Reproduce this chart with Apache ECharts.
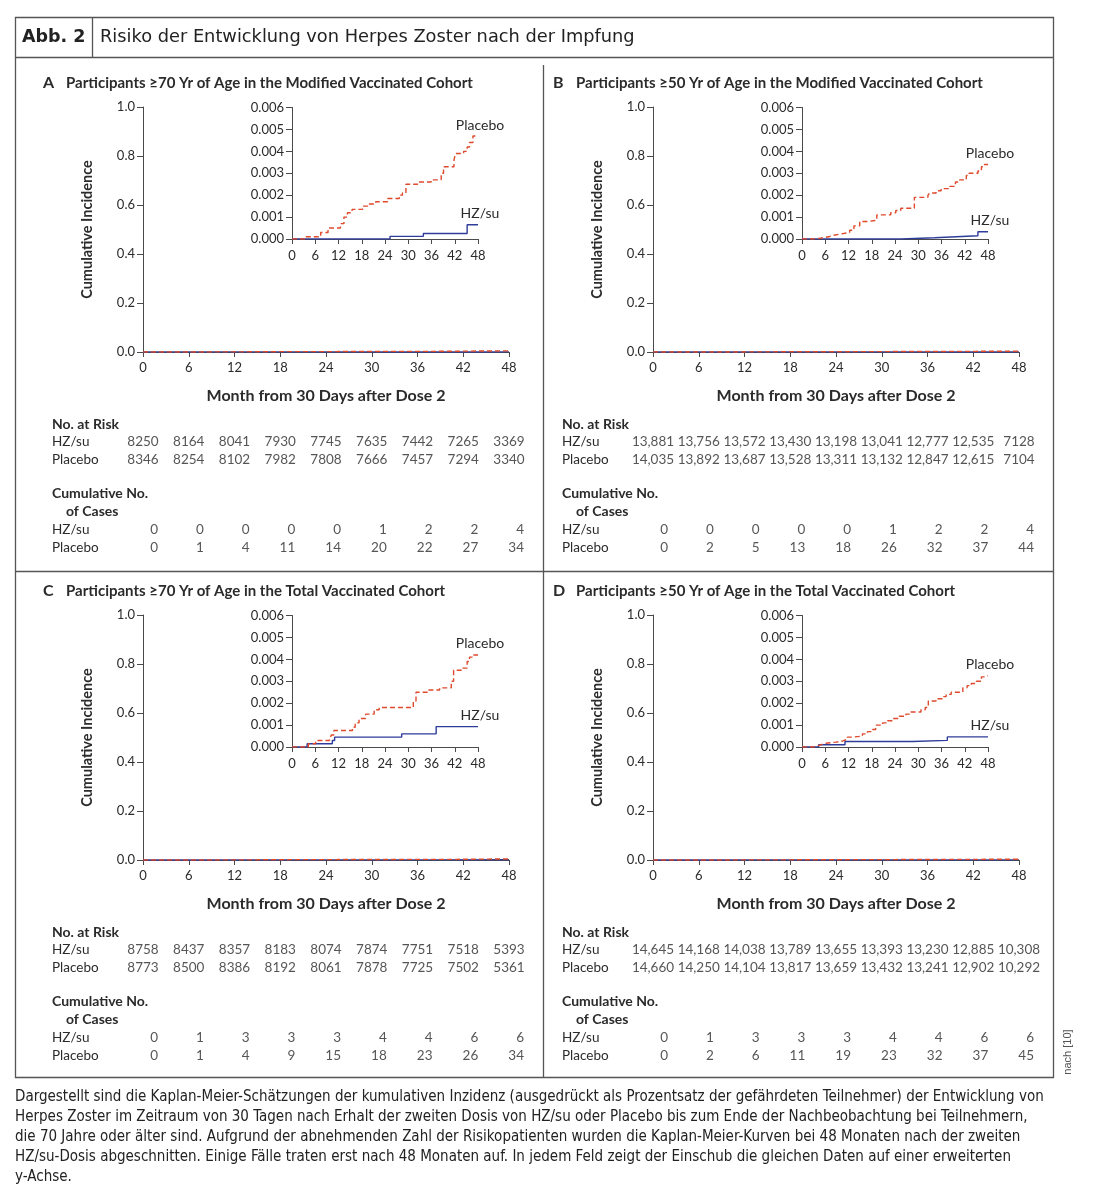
<!DOCTYPE html>
<html><head><meta charset="utf-8">
<script src="https://cdn.jsdelivr.net/npm/echarts@6/dist/echarts.min.js"></script>
<style>html,body{margin:0;padding:0;background:#fff}#c{width:1100px;height:1200px}</style>
</head><body><div id="c"></div>
<script>
// ---------------- data ----------------
const months = [0, 6, 12, 18, 24, 30, 36, 42, 48];
const groups = ['HZ/su', 'Placebo'];
const panelLetters = ['A', 'B', 'C', 'D'];
const panelTitles = [
  'Participants \u226570 Yr of Age in the Modified Vaccinated Cohort',
  'Participants \u226550 Yr of Age in the Modified Vaccinated Cohort',
  'Participants \u226570 Yr of Age in the Total Vaccinated Cohort',
  'Participants \u226550 Yr of Age in the Total Vaccinated Cohort'
];
const mainTicks = [0, 0.2, 0.4, 0.6, 0.8, 1.0];
const insetTicks = [0, 0.001, 0.002, 0.003, 0.004, 0.005, 0.006];

const riskA_hz = [8250, 8164, 8041, 7930, 7745, 7635, 7442, 7265, 3369];
const riskA_pl = [8346, 8254, 8102, 7982, 7808, 7666, 7457, 7294, 3340];
const casesA_hz = [0, 0, 0, 0, 0, 1, 2, 2, 4];
const casesA_pl = [0, 1, 4, 11, 14, 20, 22, 27, 34];

const riskB_hz = [13881, 13756, 13572, 13430, 13198, 13041, 12777, 12535, 7128];
const riskB_pl = [14035, 13892, 13687, 13528, 13311, 13132, 12847, 12615, 7104];
const casesB_hz = [0, 0, 0, 0, 0, 1, 2, 2, 4];
const casesB_pl = [0, 2, 5, 13, 18, 26, 32, 37, 44];

const riskC_hz = [8758, 8437, 8357, 8183, 8074, 7874, 7751, 7518, 5393];
const riskC_pl = [8773, 8500, 8386, 8192, 8061, 7878, 7725, 7502, 5361];
const casesC_hz = [0, 1, 3, 3, 3, 4, 4, 6, 6];
const casesC_pl = [0, 1, 4, 9, 15, 18, 23, 26, 34];

const riskD_hz = [14645, 14168, 14038, 13789, 13655, 13393, 13230, 12885, 10308];
const riskD_pl = [14660, 14250, 14104, 13817, 13659, 13432, 13241, 12902, 10292];
const casesD_hz = [0, 1, 3, 3, 3, 4, 4, 6, 6];
const casesD_pl = [0, 2, 6, 11, 19, 23, 32, 37, 45];

// Kaplan-Meier step curves: [month, cumulative incidence from that month on]
const kmA_hz = [[0,0],[25.3,0.00012],[33.9,0.00025],[45.2,0.00065],[48,0.00065]];
const kmA_pl = [[0,0],[3.5,0.0001],[7.4,0.0003],[9.3,0.0005],[12.5,0.0007],[13.4,0.001],[14.3,0.0012],
  [15.5,0.00135],[18.2,0.0015],[19.5,0.0016],[21.6,0.0017],[24.7,0.00185],[27.7,0.002],[28.5,0.0021],
  [29.4,0.0025],[32.4,0.0026],[35.9,0.0027],[38.5,0.003],[39.1,0.0033],[41.8,0.0036],[42.2,0.0039],
  [44.3,0.004],[45.2,0.0042],[45.8,0.0044],[46.7,0.0047],[48,0.0047]];

const kmB_hz = [[0,0],[25.5,0.00006],[34.2,0.00015],[45.4,0.00033],[48,0.00033]];
const kmB_pl = [[0,0],[3.0,0.00003],[4.5,0.0001],[6.9,0.00017],[8.2,0.00022],[9.7,0.0003],[12.3,0.0004],
  [13.4,0.0006],[14.9,0.0008],[17.0,0.00085],[19.3,0.0011],[22.9,0.0012],[24.2,0.0013],[25.5,0.0014],
  [29.0,0.0019],[32.5,0.002],[33.0,0.0021],[34.6,0.0022],[35.9,0.0023],[38.1,0.0024],[39.6,0.0026],
  [40.7,0.0027],[42.4,0.0029],[43.1,0.003],[45.4,0.0031],[46.3,0.0033],[47.1,0.0034],[48,0.0034]];

const kmC_hz = [[0,0],[3.9,0.00015],[10.4,0.0003],[11.0,0.00045],[28.3,0.0006],[37.2,0.00093],[48,0.00093]];
const kmC_pl = [[0,0],[4.2,0.00015],[6.1,0.0003],[9.7,0.0004],[10.2,0.00055],[10.8,0.00075],[15.6,0.0009],
  [16.3,0.0011],[17.3,0.0013],[19.0,0.0015],[21.2,0.0017],[22.5,0.0018],[31.3,0.0021],[32.0,0.0025],
  [35.0,0.0026],[38.1,0.0027],[41.1,0.003],[41.7,0.0035],[44.1,0.0036],[45.2,0.0039],[45.8,0.0041],
  [46.7,0.0042],[48,0.0042]];

const kmD_hz = [[0,0],[4.3,0.0001],[11.1,0.00025],[28.5,0.0003],[37.5,0.00046],[48,0.00046]];
const kmD_pl = [[0,0],[3.0,0.00005],[3.9,0.0001],[4.8,0.00018],[6.5,0.00022],[8.7,0.00027],[10.4,0.00035],
  [11.7,0.00045],[13.0,0.0005],[15.6,0.0006],[16.9,0.0007],[18.2,0.0008],[19.0,0.001],[20.8,0.0011],
  [22.1,0.0012],[23.4,0.0013],[25.1,0.0014],[26.8,0.0015],[27.7,0.0016],[30.7,0.0017],[31.8,0.0018],
  [32.6,0.0021],[34.6,0.0022],[36.3,0.0023],[37.2,0.0024],[38.5,0.0025],[41.5,0.0027],[42.6,0.0028],
  [43.7,0.0029],[45.0,0.003],[46.3,0.0032],[47.0,0.00325],[48,0.00325]];

const captionLines = [
  'Dargestellt sind die Kaplan-Meier-Sch\u00e4tzungen der kumulativen Inzidenz (ausgedr\u00fcckt als Prozentsatz der gef\u00e4hrdeten Teilnehmer) der Entwicklung von',
  'Herpes Zoster im Zeitraum von 30 Tagen nach Erhalt der zweiten Dosis von HZ/su oder Placebo bis zum Ende der Nachbeobachtung bei Teilnehmern,',
  'die 70 Jahre oder \u00e4lter sind. Aufgrund der abnehmenden Zahl der Risikopatienten wurden die Kaplan-Meier-Kurven bei 48 Monaten nach der zweiten',
  'HZ/su-Dosis abgeschnitten. Einige F\u00e4lle traten erst nach 48 Monaten auf. In jedem Feld zeigt der Einschub die gleichen Daten auf einer erweiterten',
  'y-Achse.'
];

// ---------------- build ----------------
const panels = [
  {risk:[riskA_hz, riskA_pl], cases:[casesA_hz, casesA_pl], km:[kmA_hz, kmA_pl]},
  {risk:[riskB_hz, riskB_pl], cases:[casesB_hz, casesB_pl], km:[kmB_hz, kmB_pl]},
  {risk:[riskC_hz, riskC_pl], cases:[casesC_hz, casesC_pl], km:[kmC_hz, kmC_pl]},
  {risk:[riskD_hz, riskD_pl], cases:[casesD_hz, casesD_pl], km:[kmD_hz, kmD_pl]}
];
const offs = [[0,0],[510,0],[0,508],[510,508]];
const FONT = 'Lato, "Noto Sans", sans-serif';
const TXT = '#2b2b2b';
const AX = '#4a4a4a';
const BLUE = '#2e3d9a';
const RED = '#de4a2b';
const fmtN = v => v >= 10000 ? v.toLocaleString('en-US') : String(v);

const grid = [], xAxis = [], yAxis = [], series = [], graphic = [];

function axBase(gi) {
  return {
    gridIndex: gi, type: 'value', splitLine: {show: false},
    axisLine: {show: true, lineStyle: {color: AX, width: 1}},
    axisTick: {show: true, inside: false, length: 5, lineStyle: {color: AX, width: 1}},
    axisLabel: {color: TXT, fontSize: 13, fontFamily: FONT}
  };
}

panels.forEach((p, i) => {
  const [dx, dy] = offs[i];
  const g = i * 4;
  grid.push({left: 143 + dx, top: 107 + dy, width: 366, height: 245});
  grid.push({left: 292 + dx, top: 107.5 + dy, width: 186, height: 131.5});
  grid.push({left: 143 + dx, top: 433 + dy, width: 366, height: 36});
  grid.push({left: 143 + dx, top: 521 + dy, width: 366, height: 36});

  // main axes
  xAxis.push(Object.assign(axBase(g), {
    min: 0, max: 48, interval: 6,
    axisLabel: {color: TXT, fontSize: 13, fontFamily: FONT, margin: 9},
    name: 'Month from 30 Days after Dose 2', nameLocation: 'middle', nameGap: 36,
    nameTextStyle: {color: TXT, fontSize: 16, fontWeight: 'bold', fontFamily: FONT}
  }));
  yAxis.push(Object.assign(axBase(g), {
    min: mainTicks[0], max: mainTicks[mainTicks.length - 1], interval: 0.2,
    axisTick: {show: true, length: 6, lineStyle: {color: AX}},
    axisLabel: {color: TXT, fontSize: 13, fontFamily: FONT, margin: 8, formatter: v => v.toFixed(1)},
    name: 'Cumulative Incidence', nameLocation: 'middle', nameGap: 48,
    nameTextStyle: {color: TXT, fontSize: 14.5, fontWeight: 'bold', fontFamily: FONT}
  }));
  // inset axes
  xAxis.push(Object.assign(axBase(g + 1), {
    min: 0, max: 48, interval: 6,
    axisLabel: {color: TXT, fontSize: 13, fontFamily: FONT, margin: 10}
  }));
  yAxis.push(Object.assign(axBase(g + 1), {
    min: insetTicks[0], max: insetTicks[insetTicks.length - 1], interval: 0.001,
    axisTick: {show: true, length: 6, lineStyle: {color: AX}},
    axisLabel: {color: TXT, fontSize: 13, fontFamily: FONT, margin: 8, formatter: v => v.toFixed(3)}
  }));
  // table axes
  [g + 2, g + 3].forEach(gi => {
    xAxis.push({gridIndex: gi, type: 'value', min: 0, max: 48, show: false});
    yAxis.push({gridIndex: gi, type: 'category', inverse: true, data: groups,
      axisLine: {show: false}, axisTick: {show: false}, splitLine: {show: false},
      axisLabel: {show: true, interval: 0, align: 'left', margin: 91, color: TXT, fontSize: 13.5, fontFamily: FONT}});
  });

  // curves: main and inset
  [g, g + 1].forEach((ai, k) => {
    [0, 1].forEach(s => {
      const ser = {
        type: 'line', name: groups[s], xAxisIndex: ai, yAxisIndex: ai, data: p.km[s],
        step: 'end', symbol: 'none', showSymbol: false, silent: true, z: s === 1 ? 4 : 3,
        lineStyle: s === 0 ? {color: BLUE, width: 1.4, type: 'solid'} : {color: RED, width: 1.4, type: [5, 3]},
        itemStyle: {color: s === 0 ? BLUE : RED}
      };
      if (k === 1) {
        ser.endLabel = {show: true, formatter: groups[s], distance: 0, align: 'center', verticalAlign: 'bottom',
          offset: [2, -4], color: TXT, fontSize: 14, fontFamily: FONT};
      }
      series.push(ser);
    });
  });

  // tables
  [0, 1].forEach(s => {
    series.push({
      type: 'scatter', xAxisIndex: g + 2, yAxisIndex: g + 2, symbolSize: 1, silent: true,
      itemStyle: {color: 'rgba(0,0,0,0)'},
      data: months.map((m, j) => [m, groups[s], p.risk[s][j]]),
      label: {show: true, position: 'inside', align: 'center', color: TXT, fontSize: 13.5, fontFamily: FONT,
        formatter: q => fmtN(q.value[2])}
    });
    series.push({
      type: 'scatter', xAxisIndex: g + 3, yAxisIndex: g + 3, symbolSize: 1, silent: true,
      itemStyle: {color: 'rgba(0,0,0,0)'},
      data: months.map((m, j) => [m, groups[s], p.cases[s][j]]),
      label: {show: true, position: 'inside', align: 'right', offset: [15, 0], color: TXT, fontSize: 13.5,
        fontFamily: FONT, formatter: q => String(q.value[2])}
    });
  });

  // texts
  const lx = 43 + dx, ty = 83 + dy;
  graphic.push({type: 'text', x: lx, y: ty, style: {text: panelLetters[i], fill: TXT, fontSize: 16,
    fontWeight: 'bold', fontFamily: FONT, textAlign: 'left', textVerticalAlign: 'middle'}});
  graphic.push({type: 'text', x: lx + 23, y: ty, style: {text: panelTitles[i], fill: TXT, fontSize: 15,
    fontWeight: 'bold', fontFamily: FONT, textAlign: 'left', textVerticalAlign: 'middle'}});
  graphic.push({type: 'text', x: 52 + dx, y: 424 + dy, style: {text: 'No. at Risk', fill: TXT, fontSize: 14,
    fontWeight: 'bold', fontFamily: FONT, textAlign: 'left', textVerticalAlign: 'middle'}});
  graphic.push({type: 'text', x: 52 + dx, y: 493 + dy, style: {text: 'Cumulative No.', fill: TXT, fontSize: 14,
    fontWeight: 'bold', fontFamily: FONT, textAlign: 'left', textVerticalAlign: 'middle'}});
  graphic.push({type: 'text', x: 66 + dx, y: 511 + dy, style: {text: 'of Cases', fill: TXT, fontSize: 14,
    fontWeight: 'bold', fontFamily: FONT, textAlign: 'left', textVerticalAlign: 'middle'}});
});

// frame
const FR = '#555';
graphic.push({type: 'rect', shape: {x: 15.5, y: 17.5, width: 1038, height: 1060},
  style: {fill: 'none', stroke: FR, lineWidth: 1.3}});
graphic.push({type: 'line', shape: {x1: 15, y1: 57.5, x2: 1053, y2: 57.5}, style: {stroke: FR, lineWidth: 1.3}});
graphic.push({type: 'line', shape: {x1: 92.5, y1: 17, x2: 92.5, y2: 57}, style: {stroke: FR, lineWidth: 1.3}});
graphic.push({type: 'line', shape: {x1: 543.5, y1: 65, x2: 543.5, y2: 1077}, style: {stroke: FR, lineWidth: 1.3}});
graphic.push({type: 'line', shape: {x1: 15, y1: 571.5, x2: 1053, y2: 571.5}, style: {stroke: FR, lineWidth: 1.3}});
graphic.push({type: 'text', x: 22, y: 37, style: {text: 'Abb. 2', fill: '#222', fontSize: 17.5, fontWeight: 'bold',
  fontFamily: '"DejaVu Sans", sans-serif', textAlign: 'left', textVerticalAlign: 'middle'}});
graphic.push({type: 'text', x: 100, y: 37, style: {text: 'Risiko der Entwicklung von Herpes Zoster nach der Impfung',
  fill: '#222', fontSize: 17.8, fontFamily: '"DejaVu Sans", sans-serif', textAlign: 'left', textVerticalAlign: 'middle'}});
captionLines.forEach((t, k) => {
  graphic.push({type: 'text', x: 15, y: 1097 + k * 20, style: {text: t, fill: '#222', fontSize: 15,
    fontFamily: '"DejaVu Sans Condensed", "Liberation Sans Narrow", sans-serif', textAlign: 'left', textVerticalAlign: 'middle'}});
});
graphic.push({type: 'text', x: 1068, y: 1052, rotation: Math.PI / 2, style: {text: 'nach [10]', fill: '#555',
  fontSize: 11, fontFamily: '"Liberation Sans", sans-serif', textAlign: 'center', textVerticalAlign: 'middle'}});

const chart = echarts.init(document.getElementById('c'), null, {renderer: 'canvas'});
chart.setOption({animation: false, backgroundColor: '#fff', grid, xAxis, yAxis, series, graphic});
</script></body></html>
